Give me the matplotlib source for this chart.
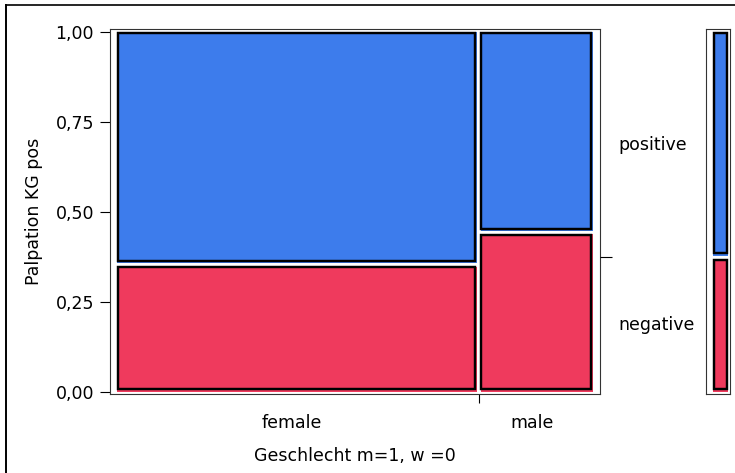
import matplotlib
matplotlib.use("Agg")
import matplotlib.pyplot as plt
from matplotlib.patches import Rectangle
from matplotlib.lines import Line2D
from matplotlib import transforms
from matplotlib.ticker import FuncFormatter

# Mosaikplot: Palpation KG pos nach Geschlecht
sexes = ["female", "male"]
sex_share = [0.76, 0.24]          # Anteil der Fälle je Geschlecht
neg_share = [0.353, 0.442]        # Anteil "negative" innerhalb des Geschlechts
levels = ["negative", "positive"]
level_colors = ["#EF3A5D", "#3D7CEC"]
yticks = [0.0, 0.25, 0.5, 0.75, 1.0]

W, H = 735, 473
plt.rcParams["font.family"] = ["DejaVu Sans"]
fs = 12.5

fig = plt.figure(figsize=(W / 100, H / 100), dpi=100)


def px_box(l, t, r, b):
    return [l / W, 1 - b / H, (r - l) / W, (b - t) / H]


ax = fig.add_axes(px_box(110, 29.5, 600, 394))
axm = fig.add_axes(px_box(706.3, 29.5, 729.5, 394))
ax.set_xlim(-0.0147, 1.0147)
ax.set_ylim(-0.0056, 1.0069)
axm.set_xlim(-0.44, 1.08)
axm.set_ylim(ax.get_ylim())

hgap_px = 1.9   # halbe Lücke zwischen Spalten (Pixel)
vgap_px = 1.6   # halbe Lücke zwischen Zeilen (Pixel)
edge_lw = 1.75


def px2data(a, dx, dy):
    inv = a.transData.inverted()
    x0, y0 = inv.transform((0, 0))
    x1, y1 = inv.transform((dx, dy))
    return x1 - x0, y1 - y0


def draw_cell(a, x0, y0, x1, y1, color):
    # Fläche, darüber der schwarze Rahmen leicht nach links oben versetzt
    a.add_patch(Rectangle((x0, y0), x1 - x0, y1 - y0, facecolor=color,
                          edgecolor="none", zorder=2))
    l, _ = px2data(a, 0.8, 0)
    r, _ = px2data(a, 1.7, 0)
    _, t = px2data(a, 0, 0.8)
    _, b = px2data(a, 0, 2.7)
    a.add_patch(Rectangle((x0 + l, y0 + b), (x1 - r) - (x0 + l), (y1 - t) - (y0 + b),
                          facecolor="none", edgecolor="black", linewidth=edge_lw, zorder=3))


def draw_column(a, left, right, p_neg):
    _, vg = px2data(a, 0, vgap_px)
    draw_cell(a, left, 0.0, right, p_neg - vg, level_colors[0])
    draw_cell(a, left, p_neg + vg, right, 1.0, level_colors[1])


# Hauptplot
hg, _ = px2data(ax, hgap_px, 0)
edges = [0.0]
for s in sex_share:
    edges.append(edges[-1] + s)
centers = []
for i, p in enumerate(neg_share):
    left = edges[i] + (hg if i > 0 else 0.0)
    right = edges[i + 1] - (hg if i < len(sex_share) - 1 else 0.0)
    draw_column(ax, left, right, p)
    centers.append((left + right) / 2)

ax.set_yticks(yticks)
ax.yaxis.set_major_formatter(FuncFormatter(lambda v, _: f"{v:.2f}".replace(".", ",")))
ax.set_xticks(edges[1:-1])
ax.set_xticklabels([])
ax.tick_params(axis="y", length=7.2, width=0.8, pad=4.3, labelsize=fs, colors="black")
ax.tick_params(axis="x", length=6.5, width=0.8)
for sp in ax.spines.values():
    sp.set_linewidth(0.8)
    sp.set_color("#333333")

# Gesamtanteil (rechter Tick + Randbalken)
p_all = sum(s * p for s, p in zip(sex_share, neg_share))
ax2 = ax.twinx()
ax2.set_ylim(ax.get_ylim())
ax2.set_yticks([p_all])
ax2.set_yticklabels([])
ax2.tick_params(axis="y", length=8.6, width=0.8)
for sp in ax2.spines.values():
    sp.set_visible(False)

draw_column(axm, 0.0, 1.0, p_all)
axm.set_xticks([])
axm.set_yticks([])
for sp in axm.spines.values():
    sp.set_linewidth(0.8)
    sp.set_color("#333333")

# Beschriftungen
lab_tr = transforms.offset_copy(transforms.blended_transform_factory(ax.transData, ax.transAxes),
                                fig=fig, x=-5, y=-29, units="dots")
for c, name in zip(centers, sexes):
    ax.text(c, 0, name, transform=lab_tr, ha="center", va="center", fontsize=fs)

lvl_tr = transforms.offset_copy(transforms.blended_transform_factory(ax.transAxes, ax.transData),
                                fig=fig, x=18, y=0, units="dots")
ax.text(1, p_all / 2, levels[0], transform=lvl_tr, ha="left", va="center", fontsize=fs)
ax.text(1, (1 + p_all) / 2, levels[1], transform=lvl_tr, ha="left", va="center", fontsize=fs)

fig.text(355 / W, 1 - 456 / H, "Geschlecht m=1, w =0", ha="center", va="center", fontsize=fs)
fig.text(34.5 / W, 1 - 211.5 / H, "Palpation KG pos", ha="center", va="center",
         rotation=90, fontsize=fs)

# Rahmen (oben und links)
fig.add_artist(Line2D([6 / W, 1], [1 - 5 / H, 1 - 5 / H], color="black", linewidth=1.2,
                      transform=fig.transFigure))
fig.add_artist(Line2D([6 / W, 6 / W], [1 - 5 / H, 0], color="black", linewidth=1.4,
                      transform=fig.transFigure))

fig.savefig("out.png", dpi=100)
